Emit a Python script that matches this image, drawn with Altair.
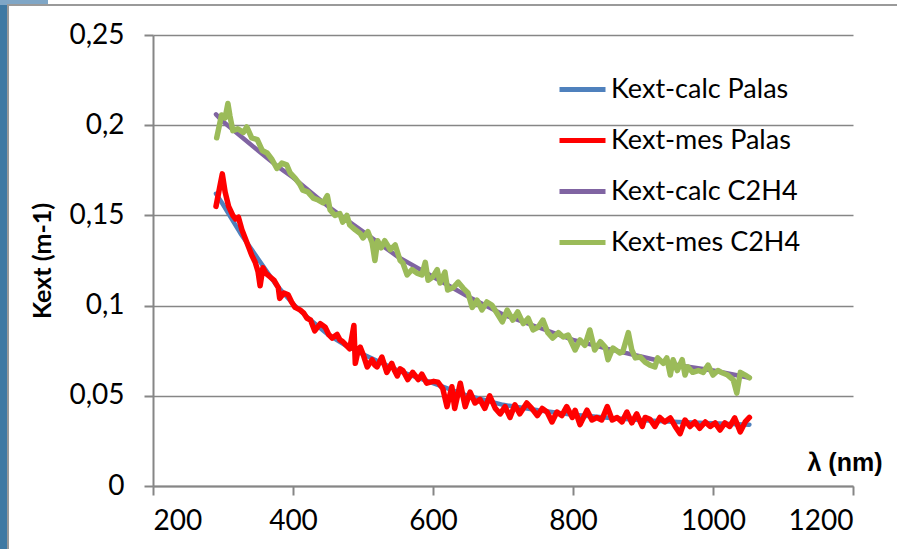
import altair as alt
import pandas as pd

# --- extinction coefficient vs wavelength ---
series_names = ["Kext-calc Palas", "Kext-mes Palas", "Kext-calc C2H4", "Kext-mes C2H4"]
series_colors = ["#4F81BD", "#FF0000", "#8064A2", "#9BBB59"]

# computed curves
lam_calc = [290, 300, 325, 350, 375, 400, 425, 450, 475, 500, 550, 600, 650, 700,
            750, 800, 850, 900, 950, 1000, 1052]
k_calc_palas = [0.162, 0.156, 0.140, 0.126, 0.112, 0.101, 0.092, 0.084, 0.078, 0.073,
                0.064, 0.057, 0.050, 0.045, 0.042, 0.0395, 0.0378, 0.0365, 0.0355,
                0.0348, 0.034]
k_calc_c2h4 = [0.206, 0.202, 0.194, 0.186, 0.178, 0.171, 0.163, 0.155, 0.148, 0.141,
               0.127, 0.116, 0.105, 0.095, 0.088, 0.081, 0.076, 0.0715, 0.067,
               0.064, 0.060]

# measured, Palas
lam_mes_palas = [290, 295, 299, 303, 308, 314, 318, 322, 327, 332, 337, 341, 346, 350,
                 353, 357, 361, 367, 373, 379, 381, 387, 393, 398, 403, 410, 415, 420,
                 425, 431, 439, 446, 451, 456, 463, 467, 471, 476, 481, 487, 489, 493,
                 496, 501, 506, 513, 517, 520, 527, 534, 541, 545, 549, 553, 557, 564,
                 571, 575, 579, 584, 591, 596, 601, 607, 614, 620, 627, 631, 635, 639,
                 646, 653, 660, 667, 674, 681, 689, 696, 703, 710, 717, 724, 734, 741,
                 749, 756, 763, 770, 777, 784, 791, 799, 803, 810, 820, 827, 834, 841,
                 849, 856, 863, 870, 877, 884, 891, 899, 903, 910, 917, 924, 931, 939,
                 946, 953, 960, 967, 974, 981, 989, 996, 1003, 1010, 1017, 1024, 1031,
                 1039, 1046, 1052]
k_mes_palas = [0.155, 0.165, 0.173, 0.163, 0.155, 0.150, 0.148, 0.149, 0.142, 0.137,
               0.132, 0.128, 0.124, 0.119, 0.111, 0.121, 0.118, 0.116, 0.114, 0.110,
               0.104, 0.107, 0.106, 0.102, 0.099, 0.0976, 0.096, 0.093, 0.092, 0.086,
               0.090, 0.088, 0.084, 0.082, 0.084, 0.081, 0.080, 0.078, 0.076, 0.089,
               0.068, 0.075, 0.077, 0.072, 0.066, 0.070, 0.067, 0.066, 0.0715, 0.063,
               0.068, 0.064, 0.061, 0.065, 0.064, 0.059, 0.063, 0.061, 0.059, 0.062,
               0.057, 0.0576, 0.058, 0.0576, 0.054, 0.044, 0.055, 0.043, 0.050, 0.057,
               0.044, 0.052, 0.046, 0.048, 0.043, 0.050, 0.043, 0.040, 0.044, 0.038,
               0.045, 0.040, 0.046, 0.043, 0.039, 0.043, 0.041, 0.0355, 0.041, 0.039,
               0.044, 0.038, 0.042, 0.034, 0.042, 0.0366, 0.038, 0.0366, 0.044, 0.0366,
               0.038, 0.0355, 0.041, 0.035, 0.040, 0.033, 0.038, 0.037, 0.033, 0.038,
               0.0355, 0.0377, 0.033, 0.029, 0.0366, 0.033, 0.0355, 0.032, 0.0355,
               0.033, 0.035, 0.031, 0.035, 0.033, 0.0377, 0.030, 0.0355, 0.038]

# measured, C2H4
lam_mes_c2h4 = [291, 298, 303, 307, 310, 314, 321, 329, 334, 341, 349, 356, 363, 370,
                377, 384, 391, 396, 403, 410, 414, 421, 429, 436, 443, 449, 453, 460,
                467, 471, 477, 481, 489, 496, 500, 507, 513, 517, 521, 526, 531, 539,
                546, 553, 557, 563, 570, 577, 584, 589, 593, 600, 606, 610, 617, 621,
                629, 636, 643, 650, 656, 663, 670, 677, 684, 691, 699, 706, 714, 721,
                729, 736, 743, 750, 757, 764, 771, 779, 786, 793, 803, 810, 817, 824,
                831, 839, 846, 850, 857, 867, 871, 879, 884, 889, 896, 903, 910, 917,
                921, 929, 934, 939, 943, 949, 956, 960, 964, 971, 979, 986, 993, 1000,
                1007, 1014, 1021, 1029, 1034, 1039, 1046, 1052]
k_mes_c2h4 = [0.193, 0.2057, 0.204, 0.212, 0.205, 0.197, 0.198, 0.196, 0.199, 0.193,
              0.192, 0.186, 0.1846, 0.181, 0.176, 0.179, 0.178, 0.1735, 0.1707, 0.167,
              0.164, 0.163, 0.1596, 0.1585, 0.157, 0.161, 0.153, 0.150, 0.151, 0.1463,
              0.150, 0.1447, 0.142, 0.140, 0.1375, 0.141, 0.135, 0.125, 0.136, 0.132,
              0.136, 0.131, 0.1336, 0.125, 0.1236, 0.117, 0.120, 0.118, 0.117, 0.124,
              0.114, 0.116, 0.120, 0.1125, 0.1186, 0.1086, 0.110, 0.113, 0.1097, 0.107,
              0.099, 0.103, 0.0976, 0.102, 0.1003, 0.096, 0.091, 0.0975, 0.092, 0.0965,
              0.090, 0.093, 0.0865, 0.088, 0.092, 0.085, 0.082, 0.085, 0.0826, 0.0837,
              0.0754, 0.081, 0.078, 0.0865, 0.0754, 0.080, 0.077, 0.070, 0.0765,
              0.0737, 0.0743, 0.085, 0.0754, 0.071, 0.0715, 0.0687, 0.067, 0.066,
              0.071, 0.068, 0.071, 0.0615, 0.070, 0.064, 0.070, 0.0615, 0.066, 0.063,
              0.064, 0.063, 0.067, 0.0615, 0.064, 0.0626, 0.0615, 0.0588, 0.0515,
              0.063, 0.0615, 0.060]

x_ticks = [200, 400, 600, 800, 1000, 1200]
y_ticks = [0, 0.05, 0.1, 0.15, 0.2, 0.25]


def frame(lams, ks, name):
    return pd.DataFrame({"lam": lams, "k": ks, "series": name, "idx": range(len(lams))})


data = pd.concat([
    frame(lam_calc, k_calc_palas, series_names[0]),
    frame(lam_mes_palas, k_mes_palas, series_names[1]),
    frame(lam_calc, k_calc_c2h4, series_names[2]),
    frame(lam_mes_c2h4, k_mes_c2h4, series_names[3]),
], ignore_index=True)

FONT = "Lato"
GRAY = "#868686"

x_enc = alt.X("lam:Q",
              scale=alt.Scale(domain=[200, 1200], nice=False),
              axis=alt.Axis(values=x_ticks, format="d", grid=False,
                            title="λ (nm)", titleFont="Liberation Sans",
                            titleFontWeight="bold", titleFontSize=25,
                            titleX=729, titleY=-16, titleAlign="right",
                            titleBaseline="alphabetic",
                            labelPadding=12, tickSize=9))
y_enc = alt.Y("k:Q",
              scale=alt.Scale(domain=[0, 0.25], nice=False),
              axis=alt.Axis(values=y_ticks,
                            labelExpr="replace(format(datum.value, '.2~f'), '.', ',')",
                            title="Kext (m-1)", titleFontWeight="bold",
                            titleFontSize=25, titlePadding=13,
                            labelPadding=20, tickSize=9))
color_enc = alt.Color("series:N",
                      scale=alt.Scale(domain=series_names, range=series_colors),
                      legend=alt.Legend(title=None, orient="none", legendX=404,
                                        legendY=29, symbolType="stroke",
                                        symbolSize=2116, symbolStrokeWidth=5,
                                        labelFontSize=27, labelFont=FONT,
                                        labelColor="black", labelOffset=3,
                                        labelLimit=400, rowPadding=12, padding=0))

layers = []
for name in series_names:
    width = 4.5 if "calc" in name else 5.5
    layers.append(
        alt.Chart(data)
        .transform_filter(alt.datum.series == name)
        .mark_line(strokeWidth=width, strokeJoin="round", strokeCap="round")
        .encode(x=x_enc, y=y_enc, color=color_enc, order="idx:Q")
    )

# slide frame: blue strip on the left edge and thin border along the top
frame_df = pd.DataFrame({"d": [0]})
strip = alt.Chart(frame_df).mark_rect(color="#3F79A3", clip=False).encode(
    x=alt.value(-153), x2=alt.value(-146), y=alt.value(-35), y2=alt.value(514))
corner = alt.Chart(frame_df).mark_rect(color="#7FA6C6", clip=False).encode(
    x=alt.value(-153), x2=alt.value(-105), y=alt.value(-35), y2=alt.value(-30))
border = alt.Chart(frame_df).mark_rule(color="#9A9A9A", strokeWidth=2, clip=False).encode(
    x=alt.value(-146), x2=alt.value(744), y=alt.value(-30))
left_border = alt.Chart(frame_df).mark_rule(color="#9A9A9A", strokeWidth=2, clip=False).encode(
    x=alt.value(-145), y=alt.value(-30), y2=alt.value(514))

chart = (
    alt.layer(*layers, strip, corner, border, left_border)
    .properties(width=700, height=451,
                autosize=alt.AutoSizeParams(type="none"),
                padding={"left": 153, "top": 35, "right": 44, "bottom": 63})
    .configure(background="white", font=FONT)
    .configure_view(stroke=None)
    .configure_axis(domainColor=GRAY, domainWidth=2, tickColor=GRAY, tickWidth=2,
                    gridColor=GRAY, gridWidth=1.5, labelFont=FONT, labelFontSize=28,
                    labelColor="black", titleFont=FONT, titleColor="black")
)

chart.save("out.html", embed_options={"renderer": "svg", "actions": False})
